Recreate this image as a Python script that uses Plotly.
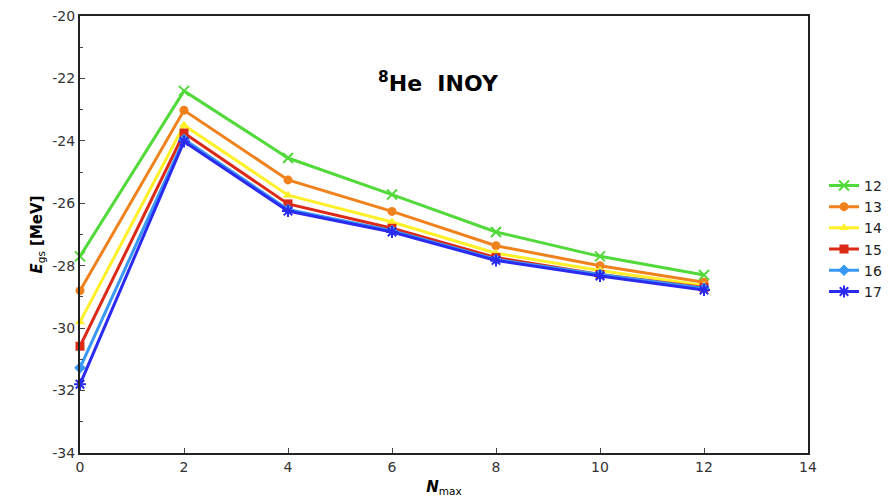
import plotly.graph_objects as go

# Ground-state energy of 8He (INOY interaction) vs. model space size
n_max = [0, 2, 4, 6, 8, 10, 12]
hw_labels = ["12", "13", "14", "15", "16", "17"]
e_gs = {
    "12": [-27.7, -22.4, -24.55, -25.72, -26.92, -27.7, -28.3],
    "13": [-28.8, -23.02, -25.25, -26.26, -27.36, -28.0, -28.53],
    "14": [-29.8, -23.5, -25.74, -26.6, -27.6, -28.15, -28.63],
    "15": [-30.58, -23.75, -26.02, -26.8, -27.74, -28.28, -28.7],
    "16": [-31.27, -23.95, -26.2, -26.88, -27.8, -28.28, -28.72],
    "17": [-31.8, -24.02, -26.25, -26.92, -27.83, -28.33, -28.78],
}
x_ticks = [0, 2, 4, 6, 8, 10, 12, 14]
y_ticks = [-34, -32, -30, -28, -26, -24, -22, -20]
y_tick_text = ["-34", "-32", "-30", "-28", "-26", "-24", "-22", "-20"]

colors = {"12": "#52d93a", "13": "#f0821e", "14": "#fff02a",
          "15": "#dc2a18", "16": "#3a98f5", "17": "#2b2bf0"}
symbols = {"12": "x-thin", "13": "circle", "14": "triangle-up",
           "15": "square", "16": "diamond", "17": "asterisk"}

fig = go.Figure()
for k in hw_labels:
    thin = symbols[k] in ("x-thin", "asterisk")
    fig.add_trace(go.Scatter(
        x=n_max, y=e_gs[k], name=k, mode="lines+markers", cliponaxis=False,
        line=dict(color=colors[k], width=3),
        marker=dict(symbol=symbols[k], size=10 if thin else 9,
                    color=colors[k],
                    line=dict(color=colors[k], width=2 if thin else 0)),
    ))

fig.add_annotation(x=6.9, y=-22.1, xref="x", yref="y", showarrow=False,
                   text="<b><sup>8</sup>He  INOY</b>",
                   font=dict(family="DejaVu Sans", size=22, color="black"))

axis_common = dict(showline=True, linecolor="#222", linewidth=2, mirror=True,
                   ticks="inside", ticklen=5, tickcolor="#444",
                   showgrid=False, zeroline=False,
                   tickfont=dict(family="DejaVu Sans", size=14, color="#333"))

fig.update_xaxes(range=[0, 14], tickvals=x_ticks,
                 title=dict(text="<b><i>N</i></b><sub>max</sub>",
                            font=dict(family="DejaVu Sans", size=15, color="black"),
                            standoff=8),
                 **axis_common)
fig.update_yaxes(range=[-34, -20], tickvals=y_ticks, ticktext=y_tick_text,
                 minor=dict(dtick=1, ticks="inside", ticklen=3, tickcolor="#444"),
                 title=dict(text="<b><i>E</i></b><sub>gs</sub><b> [MeV]</b>",
                            font=dict(family="DejaVu Sans", size=15, color="black"),
                            standoff=6),
                 **axis_common)

fig.update_layout(
    width=891, height=504,
    margin=dict(l=80, r=83, t=16, b=51, autoexpand=False),
    plot_bgcolor="white", paper_bgcolor="white",
    legend=dict(x=1.022, y=0.49, xanchor="left", yanchor="middle",
                font=dict(family="DejaVu Sans", size=14, color="#222"),
                tracegroupgap=0, itemwidth=30, bgcolor="rgba(0,0,0,0)"),
)

fig.write_html("out.html")
